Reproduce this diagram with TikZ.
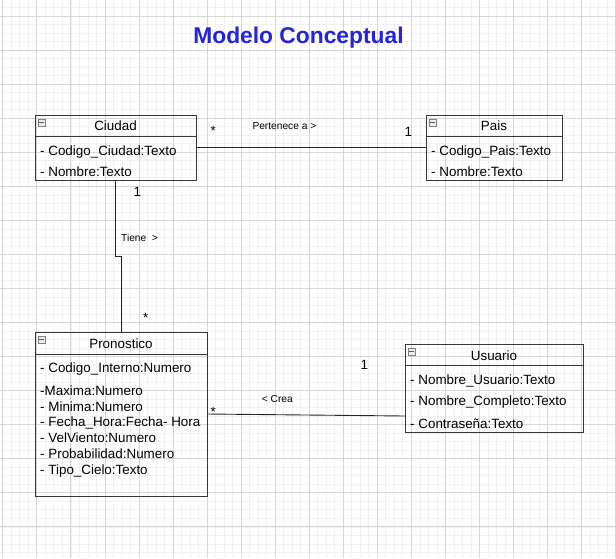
\documentclass[tikz,border=0pt]{standalone}
\usepackage{fontspec}
\setmainfont{Liberation Sans}
\definecolor{gridminor}{RGB}{241,241,241}
\definecolor{gridmajor}{RGB}{214,214,214}
\definecolor{titleblue}{RGB}{36,36,222}
\definecolor{boxline}{RGB}{55,55,55}
\begin{document}
\begin{tikzpicture}[x=1pt,y=-1pt,
  umlbox/.style={draw=boxline, line width=0.9pt, inner sep=0pt, outer sep=0pt},
  hdr/.style={draw=boxline, line width=0.9pt},
  icon/.style={draw=gray, fill=gray!15, line width=0.5pt, minimum size=7pt, inner sep=0pt,
    path picture={\fill[black!65] ([xshift=1.4pt,yshift=-0.8pt]path picture bounding box.west) rectangle ([xshift=-1.4pt,yshift=0.8pt]path picture bounding box.east);}},
  ttl/.style={anchor=base, inner sep=0pt, font=\fontsize{13.4}{15}\selectfont},
  attr/.style={anchor=base west, inner sep=0pt, font=\fontsize{13.4}{15}\selectfont},
  small/.style={anchor=base west, inner sep=0pt, font=\fontsize{10.2}{12}\selectfont},
  mult/.style={anchor=base, inner sep=0pt, font=\fontsize{13.4}{15}\selectfont},
  conn/.style={draw=black!85, line width=0.9pt}]
\useasboundingbox (0,0) rectangle (616,558);
\fill[white] (0,0) rectangle (616,558);
% grid
\foreach \i in {0,...,72} {\draw[gridminor, line width=0.5pt] ({2.65+8.5125*\i},0) -- ++(0,558);}
\foreach \i in {0,...,68} {\draw[gridminor, line width=0.5pt] (0,{-18.05+8.5125*\i}) -- ++(616,0);}
\foreach \i in {0,...,18} {\draw[gridmajor, line width=0.6pt] ({2.65+34.05*\i},0) -- ++(0,558);}
\foreach \i in {1,...,17} {\draw[gridmajor, line width=0.6pt] (0,{-18.05+34.05*\i}) -- ++(616,0);}

% title
\node[anchor=base, inner sep=0pt, text=titleblue, font=\fontsize{22.8}{26}\selectfont\bfseries] (title) at (298.5,43.3) {Modelo Conceptual};

% Ciudad
\node[umlbox, minimum width=161, minimum height=65] (ciudad) at (115.5,147.5) {};
\draw[hdr] ([yshift=-21pt]ciudad.north west) -- ([yshift=-21pt]ciudad.north east);
\node[icon] (ciudadicon) at ([xshift=6.5pt,yshift=-7.5pt]ciudad.north west) {};
\node[ttl] (ciudadt) at (115.5,130.7) {Ciudad};
\node[attr] (ciudada1) at (40,155.2) {- Codigo\_Ciudad:Texto};
\node[attr] (ciudada2) at (40,176.5) {- Nombre:Texto};

% Pais
\node[umlbox, minimum width=136, minimum height=65] (pais) at (494,147.5) {};
\draw[hdr] ([yshift=-21pt]pais.north west) -- ([yshift=-21pt]pais.north east);
\node[icon] (paisicon) at ([xshift=6.5pt,yshift=-7.5pt]pais.north west) {};
\node[ttl] (paist) at (494,130.7) {Pais};
\node[attr] (paisa1) at (431,155.2) {- Codigo\_Pais:Texto};
\node[attr] (paisa2) at (431,176.5) {- Nombre:Texto};

% Pronostico
\node[umlbox, minimum width=172, minimum height=164] (prono) at (121,414) {};
\draw[hdr] ([yshift=-22pt]prono.north west) -- ([yshift=-22pt]prono.north east);
\node[icon] (pronoicon) at ([xshift=6.5pt,yshift=-7.5pt]prono.north west) {};
\node[ttl] (pronot) at (121,348.7) {Pronostico};
\node[attr] (pronoa1) at (40,372) {- Codigo\_Interno:Numero};
\node[attr] (pronoa2) at (40,395.4) {-Maxima:Numero};
\node[attr] (pronoa3) at (40,411) {- Minima:Numero};
\node[attr] (pronoa4) at (40,426.4) {- Fecha\_Hora:Fecha- Hora};
\node[attr] (pronoa5) at (40,442.4) {- VelViento:Numero};
\node[attr] (pronoa6) at (40,458.7) {- Probabilidad:Numero};
\node[attr] (pronoa7) at (40,474.7) {- Tipo\_Cielo:Texto};

% Usuario
\node[umlbox, minimum width=178, minimum height=88] (usuario) at (494,388) {};
\draw[hdr] ([yshift=-21pt]usuario.north west) -- ([yshift=-21pt]usuario.north east);
\node[icon] (usuarioicon) at ([xshift=6.5pt,yshift=-7.5pt]usuario.north west) {};
\node[ttl] (usuariot) at (494,360.7) {Usuario};
\node[attr] (usuarioa1) at (410,384) {- Nombre\_Usuario:Texto};
\node[attr] (usuarioa2) at (410,405.7) {- Nombre\_Completo:Texto};
\node[attr] (usuarioa3) at (410,428) {- Contraseña:Texto};

% connectors
\draw[conn] (ciudad.east) -- (pais.west);
\draw[conn] (ciudad.south) -- ++(0,76) -| (prono.north);
\draw[conn] (prono.east) -- ([yshift=-28pt]usuario.west);

% labels
\node[mult] (m1) at (213.3,135.8) {*};
\node[small] (l1) at (252.3,129.6) {Pertenece a >};
\node[mult] (m2) at (408.3,136.3) {1};
\node[mult] (m3) at (137.3,196.3) {1};
\node[small] (l2) at (121,241.3) {Tiene\ \ >};
\node[mult] (m4) at (145.7,322.5) {*};
\node[mult] (m5) at (213.3,416.8) {*};
\node[small] (l3) at (261.7,402.6) {< Crea};
\node[mult] (m6) at (364.3,369.7) {1};
\end{tikzpicture}
\end{document}
